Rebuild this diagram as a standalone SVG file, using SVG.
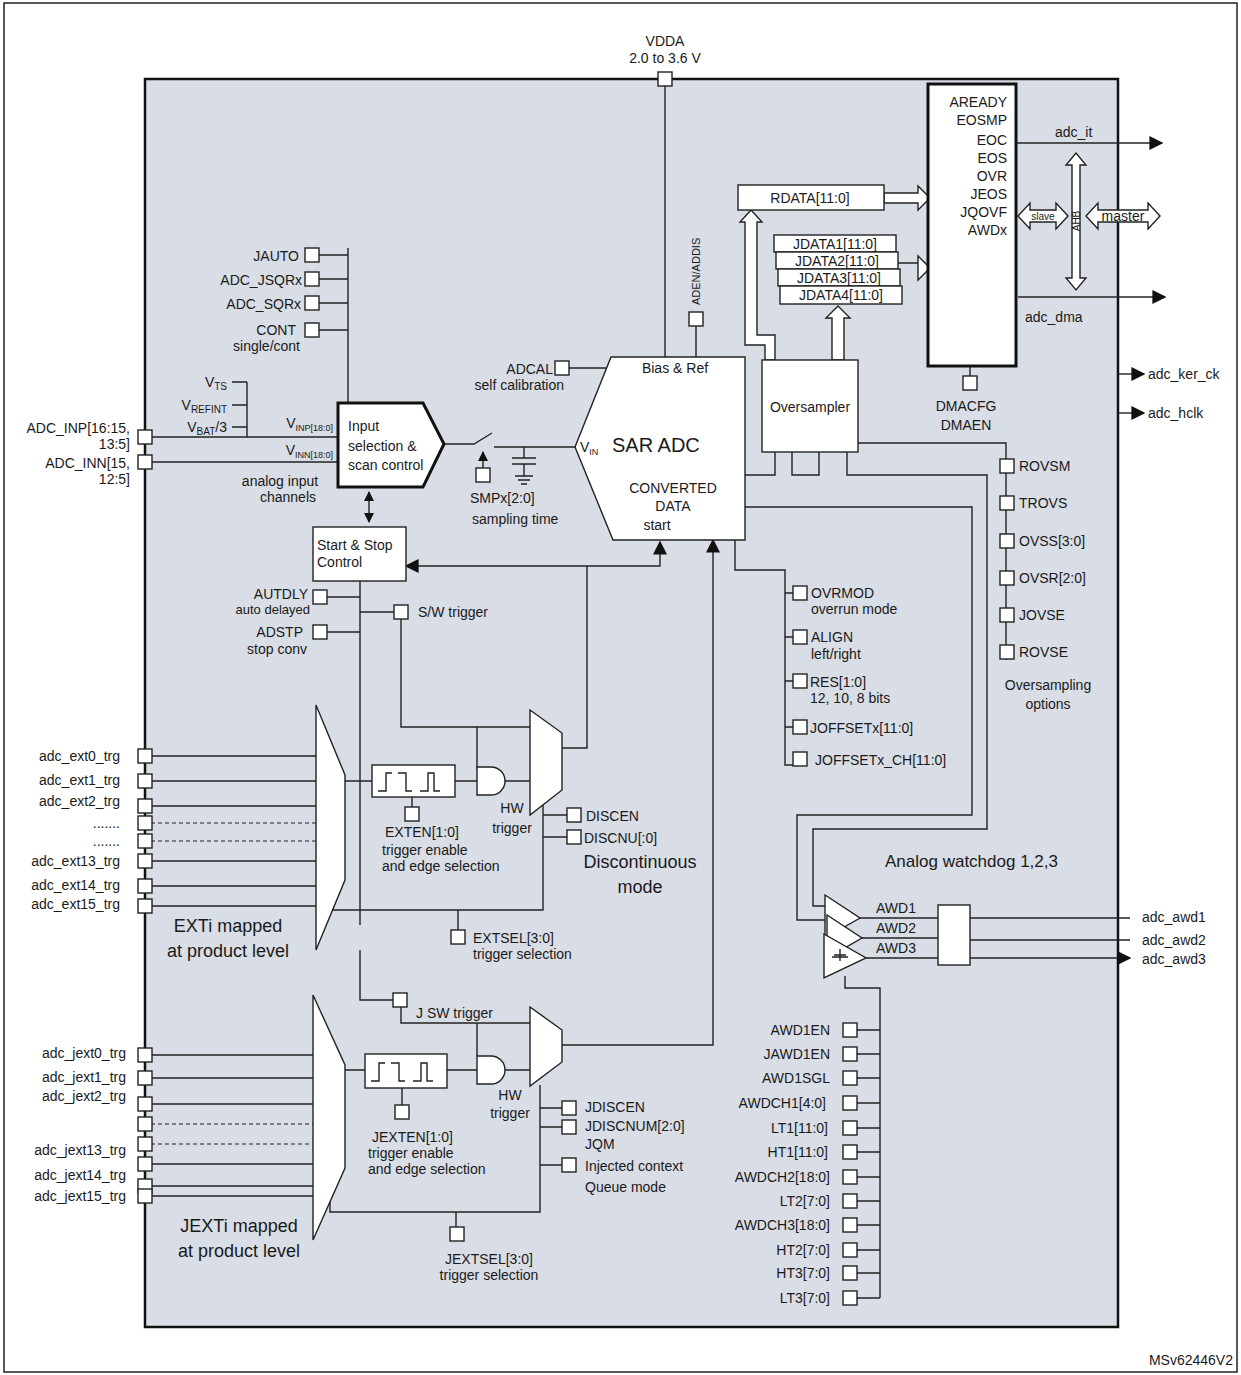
<svg xmlns="http://www.w3.org/2000/svg" width="1241" height="1375" viewBox="0 0 1241 1375">
<style>
text{font-family:"Liberation Sans",Arial,sans-serif;font-size:14px;fill:#1a1a1a}
.r{text-anchor:end}.m{text-anchor:middle}
.w{fill:#fff;stroke:#222;stroke-width:1.4}
.l{fill:none;stroke:#222;stroke-width:1.4}
.d{fill:none;stroke:#222;stroke-width:1.2;stroke-dasharray:4 3}
.s{fill:#fff;stroke:#222;stroke-width:1.4}
.big{font-size:18px}
</style>
<defs>
<marker id="a" viewBox="0 0 10 10" refX="9" refY="5" markerWidth="10" markerHeight="10" markerUnits="userSpaceOnUse" orient="auto-start-reverse"><path d="M0,0L10,5L0,10z" fill="#111"/></marker>
<marker id="b" viewBox="0 0 10 10" refX="9" refY="5" markerWidth="14" markerHeight="14" markerUnits="userSpaceOnUse" orient="auto-start-reverse"><path d="M0,0L10,5L0,10z" fill="#111"/></marker>
</defs>
<rect x="4" y="3" width="1233" height="1369" fill="#fff" stroke="#222" stroke-width="1.5"/>
<rect x="145" y="79" width="973" height="1248" fill="#d9dde5" stroke="#111" stroke-width="2.5"/>
<text x="1233" y="1365" class="r">MSv62446V2</text>

<g id="connectors">
<path class="l" d="M665,86V357M696,326V357"/>
<path class="l" d="M319,255H348M319,279H348M319,303H348M319,330H348M348,248V403"/>
<path class="l" d="M232,382H247M232,405H247M232,427H247M247,382V437"/>
<path class="l" d="M152,437H338M152,462H338"/>
<path class="l" d="M369,492V522" marker-start="url(#a)" marker-end="url(#a)"/>
<path class="l" d="M444,444H474L492,433M494,447H575M524,447V458M512,458H536M512,464H536M524,464V476M515,476H533M518,480H530M521,484H527"/>
<path class="l" d="M483,468V452" marker-end="url(#a)"/>
<path class="l" d="M569,368H606"/>
<path class="l" d="M587,566H406" marker-end="url(#b)"/>
<path class="l" d="M587,566H660V542" marker-end="url(#b)"/>
<path class="l" d="M562,748H587V566"/>
<path class="l" d="M360,581V925M327,597H360M327,632H360M360,612H394M401,619V727H530"/>
<path class="l" d="M477,727V769"/>
<path class="l" d="M151,756H316M151,781H316M151,806H316M151,861H316M151,886H316M151,906H316"/>
<path class="d" d="M151,823H316M151,841H316"/>
<path class="l" d="M345,781H372M455,781H477M505,781H530M412,797V807"/>
<path class="l" d="M333,870V910H543V800M543,815H567M543,837H567M458,910V930"/>
<path class="l" d="M360,950V1000H393M401,1007V1023H530M477,1023V1056"/>
<path class="l" d="M151,1055H315M151,1078H315M151,1104H315M151,1164H315M151,1186H315M151,1196H315"/>
<path class="d" d="M151,1124H315M151,1144H315"/>
<path class="l" d="M345,1070H365M447,1070H477M505,1070H530M402,1088V1105"/>
<path class="l" d="M330,1140V1212H540V1085M540,1108H562M540,1127H562M540,1165H562M456,1212V1227"/>
<path class="l" d="M562,1045H713V540" marker-end="url(#b)"/>
<path class="l" d="M735,540V570H785V765H793M785,593H793M785,637H793M785,681H793M785,727H793"/>
<path class="l" d="M858,443H1006V660"/>
<path class="l" d="M745,475H775V452M792,452V475H819V452M847,452V475H987V829H813V906H827"/>
<path class="l" d="M745,507H972V815H797V920H827"/>
<path class="l" d="M845,976V988H880V1298M857,1030H880M857,1054H880M857,1078H880M857,1103H880M857,1128H880M857,1152H880M857,1177H880M857,1201H880M857,1225H880M857,1250H880M857,1273H880M857,1298H880"/>
<path class="l" d="M860,918H938M862,938H938M866,958H938"/>
<path class="l" d="M970,918H1130M970,940H1130M970,958H1130" marker-end="url(#b)"/>
<path class="l" d="M970,366V376"/>
<path class="l" d="M1016,143H1162" marker-end="url(#b)"/>
<path class="l" d="M1018,297H1165" marker-end="url(#b)"/>
<path class="l" d="M1118,374H1144" marker-end="url(#b)"/>
<path class="l" d="M1118,413H1144" marker-end="url(#b)"/>
<path class="l" d="M1008,102H1016M1008,120H1016M1008,140H1016M1008,158H1016M1008,176H1016M1008,194H1016M1008,212H1016M1008,230H1016"/>
<path class="w" d="M884,193H918V186L930,198L918,210V203H884z"/>
<path class="w" d="M896,263H918V256L930,268L918,280V263z"/>
<path class="w" d="M745,345V222H740L751,210L762,222H757V335H775V360H765V345z"/>
<path class="w" d="M832,360V318H826L838,306L850,318H844V360z"/>
<path class="w" d="M1072,165H1066L1076,153L1086,165H1080V278H1086L1076,290L1066,278H1072z"/>
<path class="w" d="M1030,210V203L1018,216L1030,229V222H1056V229L1068,216L1056,203V210z"/>
<path class="w" d="M1098,210V203L1086,216L1098,229V222H1148V229L1160,216L1148,203V210z"/>
</g>

<g id="vdda"><text x="665" y="46" class="m">VDDA</text><text x="665" y="63" class="m">2.0 to 3.6 V</text><rect class="s" x="658" y="72" width="14" height="14"/></g>
<g id="regs">
<rect x="928" y="84" width="88" height="282" fill="#fff" stroke="#111" stroke-width="3"/>
<text x="1007" y="107" class="r">AREADY</text><text x="1007" y="125" class="r">EOSMP</text><text x="1007" y="145" class="r">EOC</text><text x="1007" y="163" class="r">EOS</text><text x="1007" y="181" class="r">OVR</text><text x="1007" y="199" class="r">JEOS</text><text x="1007" y="217" class="r">JQOVF</text><text x="1007" y="235" class="r">AWDx</text>
<text x="1055" y="137">adc_it</text><text x="1025" y="322">adc_dma</text>
<text x="1043" y="220" class="m" style="font-size:10px">slave</text><text x="1123" y="221" class="m">master</text>
<text transform="translate(1080,221) rotate(-90)" class="m" style="font-size:10px">AHB</text>
<rect class="s" x="963" y="376" width="14" height="14"/><text x="966" y="411" class="m">DMACFG</text><text x="966" y="430" class="m">DMAEN</text>
<text x="1148" y="379">adc_ker_ck</text><text x="1148" y="418">adc_hclk</text>
</g>
<g id="rdata"><rect class="w" x="738" y="185" width="146" height="25"/><text x="810" y="203" class="m">RDATA[11:0]</text></g>
<g id="jdata">
<rect class="w" x="774" y="235" width="122" height="17"/><text x="835" y="249" class="m">JDATA1[11:0]</text>
<rect class="w" x="776" y="252" width="122" height="17"/><text x="837" y="266" class="m">JDATA2[11:0]</text>
<rect class="w" x="778" y="269" width="122" height="17"/><text x="839" y="283" class="m">JDATA3[11:0]</text>
<rect class="w" x="780" y="286" width="122" height="18"/><text x="841" y="300" class="m">JDATA4[11:0]</text>
</g>
<g id="oversampler"><rect class="w" x="762" y="360" width="96" height="92"/><text x="810" y="412" class="m">Oversampler</text></g>
<g id="sar">
<polygon class="w" points="611,357 745,357 745,540 613,540 575,447"/>
<text x="675" y="373" class="m">Bias &amp; Ref</text>
<text x="612" y="452" style="font-size:20px">SAR ADC</text>
<text x="580" y="452">V<tspan style="font-size:9px" dy="3">IN</tspan></text>
<text x="673" y="493" class="m">CONVERTED</text><text x="673" y="511" class="m">DATA</text><text x="657" y="530" class="m">start</text>
<rect class="s" x="689" y="312" width="14" height="14"/>
<text transform="translate(700,305) rotate(-90)" style="font-size:11px">ADEN/ADDIS</text>
<rect class="s" x="555" y="361" width="14" height="14"/>
<text x="553" y="374" class="r">ADCAL</text><text x="564" y="390" class="r">self calibration</text>
</g>
<g id="smp"><rect class="s" x="476" y="468" width="14" height="14"/><text x="470" y="503">SMPx[2:0]</text><text x="472" y="524">sampling time</text></g>
<g id="inputsel">
<polygon points="338,403 423,403 444,444 423,487 338,487" fill="#fff" stroke="#111" stroke-width="3"/>
<text x="348" y="431">Input</text><text x="348" y="451">selection &amp;</text><text x="348" y="470">scan control</text>
</g>
<g id="seqregs">
<text x="299" y="261" class="r">JAUTO</text><rect class="s" x="305" y="248" width="14" height="14"/>
<text x="302" y="285" class="r">ADC_JSQRx</text><rect class="s" x="305" y="272" width="14" height="14"/>
<text x="301" y="309" class="r">ADC_SQRx</text><rect class="s" x="305" y="296" width="14" height="14"/>
<text x="296" y="335" class="r">CONT</text><text x="300" y="351" class="r">single/cont</text><rect class="s" x="305" y="323" width="14" height="14"/>
<text x="227" y="387" class="r">V<tspan style="font-size:10px" dy="3">TS</tspan></text>
<text x="227" y="410" class="r">V<tspan style="font-size:10px" dy="3">REFINT</tspan></text>
<text x="227" y="432" class="r">V<tspan style="font-size:10px" dy="3">BAT</tspan><tspan dy="-3">/3</tspan></text>
<text x="333" y="428" class="r">V<tspan style="font-size:9px" dy="3">INP[18:0]</tspan></text>
<text x="333" y="455" class="r">V<tspan style="font-size:9px" dy="3">INN[18:0]</tspan></text>
<text x="280" y="486" class="m">analog input</text><text x="288" y="502" class="m">channels</text>
</g>
<g id="adcin">
<rect class="s" x="138" y="430" width="14" height="14"/><rect class="s" x="138" y="455" width="14" height="14"/>
<text x="130" y="433" class="r">ADC_INP[16:15,</text><text x="130" y="449" class="r">13:5]</text>
<text x="130" y="468" class="r">ADC_INN[15,</text><text x="130" y="484" class="r">12:5]</text>
</g>
<g id="startstop"><rect class="w" x="313" y="527" width="93" height="54"/><text x="317" y="550">Start &amp; Stop</text><text x="317" y="567">Control</text>
<rect class="s" x="313" y="590" width="14" height="14"/><text x="308" y="599" class="r">AUTDLY</text><text x="310" y="614" class="r" style="font-size:13px">auto delayed</text>
<rect class="s" x="313" y="625" width="14" height="14"/><text x="303" y="637" class="r">ADSTP</text><text x="307" y="654" class="r">stop conv</text>
<rect class="s" x="394" y="605" width="14" height="14"/><text x="418" y="617">S/W trigger</text>
</g>
<g id="ext">
<rect class="s" x="138" y="749" width="14" height="14"/><rect class="s" x="138" y="774" width="14" height="14"/><rect class="s" x="138" y="799" width="14" height="14"/><rect class="s" x="138" y="816" width="14" height="14"/><rect class="s" x="138" y="834" width="14" height="14"/><rect class="s" x="138" y="854" width="14" height="14"/><rect class="s" x="138" y="879" width="14" height="14"/><rect class="s" x="138" y="899" width="14" height="14"/>
<text x="120" y="761" class="r">adc_ext0_trg</text><text x="120" y="785" class="r">adc_ext1_trg</text><text x="120" y="806" class="r">adc_ext2_trg</text><text x="120" y="828" class="r">.......</text><text x="120" y="846" class="r">.......</text><text x="120" y="866" class="r">adc_ext13_trg</text><text x="120" y="890" class="r">adc_ext14_trg</text><text x="120" y="909" class="r">adc_ext15_trg</text>
<polygon class="w" points="316,705 345,775 345,880 316,950"/>
<rect class="w" x="372" y="765" width="83" height="32"/>
<path class="l" d="M378,791H386V773H392M386,779V773M398,773H406V791H412M406,785V791M420,791H428V773H434V791H440M434,779V785"/>
<rect class="s" x="405" y="807" width="14" height="14"/>
<path class="w" d="M477,767H491A14,14 0 0 1 491,795H477z"/>
<polygon class="w" points="530,710 562,733 562,790 530,815"/>
<text x="512" y="813" class="m">HW</text><text x="512" y="833" class="m">trigger</text>
<text x="385" y="837">EXTEN[1:0]</text><text x="382" y="855">trigger enable</text><text x="382" y="871">and edge selection</text>
<rect class="s" x="567" y="808" width="14" height="14"/><text x="586" y="821">DISCEN</text>
<rect class="s" x="567" y="830" width="14" height="14"/><text x="584" y="843">DISCNU[:0]</text>
<text x="640" y="868" class="m big">Discontinuous</text><text x="640" y="893" class="m big">mode</text>
<rect class="s" x="451" y="930" width="14" height="14"/><text x="473" y="943">EXTSEL[3:0]</text><text x="473" y="959">trigger selection</text>
<text x="228" y="932" class="m big">EXTi mapped</text><text x="228" y="957" class="m big">at product level</text>
</g>
<g id="jext">
<rect class="s" x="393" y="993" width="14" height="14"/><text x="416" y="1018">J SW trigger</text>
<rect class="s" x="138" y="1048" width="14" height="14"/><rect class="s" x="138" y="1071" width="14" height="14"/><rect class="s" x="138" y="1097" width="14" height="14"/><rect class="s" x="138" y="1117" width="14" height="14"/><rect class="s" x="138" y="1137" width="14" height="14"/><rect class="s" x="138" y="1157" width="14" height="14"/><rect class="s" x="138" y="1179" width="14" height="14"/><rect class="s" x="138" y="1189" width="14" height="14"/>
<text x="126" y="1058" class="r">adc_jext0_trg</text><text x="126" y="1082" class="r">adc_jext1_trg</text><text x="126" y="1101" class="r">adc_jext2_trg</text><text x="126" y="1155" class="r">adc_jext13_trg</text><text x="126" y="1180" class="r">adc_jext14_trg</text><text x="126" y="1201" class="r">adc_jext15_trg</text>
<polygon class="w" points="313,995 345,1065 345,1168 313,1240"/>
<rect class="w" x="365" y="1054" width="82" height="34"/>
<path class="l" d="M371,1081H379V1063H385M379,1069V1063M391,1063H399V1081H405M399,1075V1081M413,1081H421V1063H427V1081H433M427,1069V1075"/>
<rect class="s" x="395" y="1105" width="14" height="14"/>
<path class="w" d="M477,1056H491A14,14 0 0 1 491,1084H477z"/>
<polygon class="w" points="530,1007 562,1030 562,1062 530,1086"/>
<text x="510" y="1100" class="m">HW</text><text x="510" y="1118" class="m">trigger</text>
<text x="372" y="1142">JEXTEN[1:0]</text><text x="368" y="1158">trigger enable</text><text x="368" y="1174">and edge selection</text>
<rect class="s" x="562" y="1101" width="14" height="14"/><text x="585" y="1112">JDISCEN</text>
<rect class="s" x="562" y="1120" width="14" height="14"/><text x="585" y="1131">JDISCNUM[2:0]</text>
<rect class="s" x="562" y="1158" width="14" height="14"/><text x="585" y="1149">JQM</text><text x="585" y="1171">Injected context</text><text x="585" y="1192">Queue mode</text>
<rect class="s" x="450" y="1227" width="14" height="14"/><text x="489" y="1264" class="m">JEXTSEL[3:0]</text><text x="489" y="1280" class="m">trigger selection</text>
<text x="239" y="1232" class="m big">JEXTi mapped</text><text x="239" y="1257" class="m big">at product level</text>
</g>
<g id="dataregs">
<rect class="s" x="793" y="586" width="14" height="14"/><text x="811" y="598">OVRMOD</text><text x="811" y="614">overrun mode</text>
<rect class="s" x="793" y="630" width="14" height="14"/><text x="811" y="642">ALIGN</text><text x="811" y="659">left/right</text>
<rect class="s" x="793" y="674" width="14" height="14"/><text x="810" y="687">RES[1:0]</text><text x="810" y="703">12, 10, 8 bits</text>
<rect class="s" x="793" y="720" width="14" height="14"/><text x="810" y="733">JOFFSETx[11:0]</text>
<rect class="s" x="793" y="752" width="14" height="14"/><text x="815" y="765">JOFFSETx_CH[11:0]</text>
</g>
<g id="ovs">
<rect class="s" x="1000" y="459" width="14" height="14"/><text x="1019" y="471">ROVSM</text>
<rect class="s" x="1000" y="496" width="14" height="14"/><text x="1019" y="508">TROVS</text>
<rect class="s" x="1000" y="534" width="14" height="14"/><text x="1019" y="546">OVSS[3:0]</text>
<rect class="s" x="1000" y="571" width="14" height="14"/><text x="1019" y="583">OVSR[2:0]</text>
<rect class="s" x="1000" y="608" width="14" height="14"/><text x="1019" y="620">JOVSE</text>
<rect class="s" x="1000" y="645" width="14" height="14"/><text x="1019" y="657">ROVSE</text>
<text x="1048" y="690" class="m">Oversampling</text><text x="1048" y="709" class="m">options</text>
</g>
<g id="awd">
<text x="885" y="867" style="font-size:17px">Analog watchdog 1,2,3</text>
<polygon class="w" points="825,895 860,918 825,938"/>
<polygon class="w" points="827,915 862,938 827,958"/>
<polygon class="w" points="824,934 866,958 824,978"/>
<path class="l" d="M834,955H846M840,949V961M832,957H848"/>
<text x="876" y="913">AWD1</text><text x="876" y="933">AWD2</text><text x="876" y="953">AWD3</text>
<rect class="w" x="938" y="905" width="32" height="60"/>
<text x="1142" y="922">adc_awd1</text><text x="1142" y="945">adc_awd2</text><text x="1142" y="964">adc_awd3</text>
<rect class="s" x="843" y="1023" width="14" height="14"/><text x="830" y="1035" class="r">AWD1EN</text>
<rect class="s" x="843" y="1047" width="14" height="14"/><text x="830" y="1059" class="r">JAWD1EN</text>
<rect class="s" x="843" y="1071" width="14" height="14"/><text x="830" y="1083" class="r">AWD1SGL</text>
<rect class="s" x="843" y="1096" width="14" height="14"/><text x="826" y="1108" class="r">AWDCH1[4:0]</text>
<rect class="s" x="843" y="1121" width="14" height="14"/><text x="828" y="1133" class="r">LT1[11:0]</text>
<rect class="s" x="843" y="1145" width="14" height="14"/><text x="828" y="1157" class="r">HT1[11:0]</text>
<rect class="s" x="843" y="1170" width="14" height="14"/><text x="830" y="1182" class="r">AWDCH2[18:0]</text>
<rect class="s" x="843" y="1194" width="14" height="14"/><text x="830" y="1206" class="r">LT2[7:0]</text>
<rect class="s" x="843" y="1218" width="14" height="14"/><text x="830" y="1230" class="r">AWDCH3[18:0]</text>
<rect class="s" x="843" y="1243" width="14" height="14"/><text x="830" y="1255" class="r">HT2[7:0]</text>
<rect class="s" x="843" y="1266" width="14" height="14"/><text x="830" y="1278" class="r">HT3[7:0]</text>
<rect class="s" x="843" y="1291" width="14" height="14"/><text x="830" y="1303" class="r">LT3[7:0]</text>
</g>
</svg>
